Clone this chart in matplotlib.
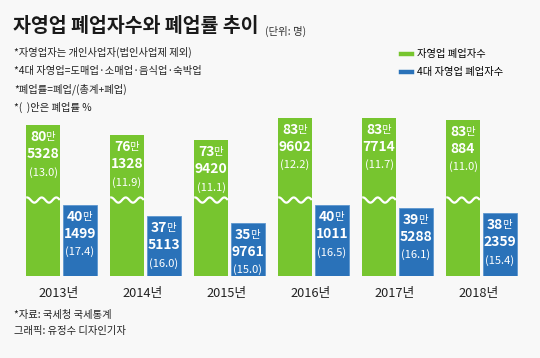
import numpy as np
import matplotlib.pyplot as plt
from matplotlib.lines import Line2D

plt.rcParams['font.family'] = ['Noto Sans CJK KR', 'DejaVu Sans']

# Data (명, 폐업률 %)
years = ["2013년", "2014년", "2015년", "2016년", "2017년", "2018년"]
all_closed = [805328, 761328, 739420, 839602, 837714, 830884]
all_rate = [13.0, 11.9, 11.1, 12.2, 11.7, 11.0]
top4_closed = [401499, 375113, 359761, 401011, 395288, 382359]
top4_rate = [17.4, 16.0, 15.0, 16.5, 16.1, 15.4]

notes = [
    "*자영업자는 개인사업자(법인사업제 제외)",
    "*4대 자영업=도매업·소매업·음식업·숙박업",
    "*폐업률=폐업/(총계+폐업)",
    "*(  )안은 폐업률 %",
]

GREEN = "#77c52f"
BLUE = "#2a72b9"
BG = "#f8f8f8"

# broken axis: green bars are squashed above BREAK
BREAK = 347400
SQUASH = 0.522
WAVE_Y = 413000


def squash(v):
    return BREAK + (v - BREAK) * SQUASH


W, H = 540, 358
fig = plt.figure(figsize=(W / 100, H / 100), dpi=100, facecolor=BG)


def ftext(x, y, s, **kw):
    fig.text(x / W, 1 - y / H, s, **kw)


ax = fig.add_axes([0, (H - 275.7) / H, 1, 175.7 / H])
ax.set_facecolor("none")
ax.axis("off")

x = np.arange(len(years))
bw = 0.40
off = 0.22
g_h = [squash(v) for v in all_closed]
gb = ax.bar(x - off, g_h, bw, color=GREEN, label="자영업 폐업자수")
bb = ax.bar(x + off, top4_closed, bw, color=BLUE, label="4대 자영업 폐업자수",
            edgecolor="#5d97cf", linewidth=0.6)
ax.set_xlim(-0.732, 5.696)
ax.set_ylim(237500, 645200)

# wavy break line on green bars
t = np.linspace(0, 1, 60)
for xi in x - off:
    ax.plot(xi - bw / 2 + t * bw, WAVE_Y + 6000 * np.sin(2 * np.pi * 2.3 * t + 1.2),
            color="white", lw=1.6, solid_capstyle="butt")


def label_bar(xc, top, val, rate):
    man, rest = divmod(val, 10000)
    ax.annotate(f"{man}", (xc, top), xytext=(2.4, -8.6), textcoords="offset points",
                ha="right", va="center", color="white", fontsize=10, fontweight="bold")
    ax.annotate("만", (xc, top), xytext=(1.6, -8.6), textcoords="offset points",
                ha="left", va="center", color="white", fontsize=7.5)
    ax.annotate(f"{rest}", (xc, top), xytext=(0, -20.9), textcoords="offset points",
                ha="center", va="center", color="white", fontsize=10, fontweight="bold")
    ax.annotate(f"({rate:.1f})", (xc, top), xytext=(0, -33.8), textcoords="offset points",
                ha="center", va="center", color="white", fontsize=8)


for i in range(len(years)):
    label_bar(x[i] - off, g_h[i], all_closed[i], all_rate[i])
    label_bar(x[i] + off, top4_closed[i], top4_closed[i], top4_rate[i])
    ax.annotate(years[i], (x[i], 237500), xytext=(-2, -12.5), textcoords="offset points",
                ha="center", va="center", fontsize=9.2, color="#222222",
                annotation_clip=False)

# title and notes
ftext(13, 27, "자영업 폐업자수와 폐업률 추이", fontsize=14, fontweight="bold",
      color="#1a1a1a", va="center")
ftext(265, 31, "(단위: 명)", fontsize=7.5, color="#333333", va="center")
for i, n in enumerate(notes):
    ftext(14, 52.5 + i * 18.2, n, fontsize=7.4, color="#222222", va="center")

ftext(14, 315, "*자료: 국세청 국세통계", fontsize=7.4, color="#222222", va="center")
ftext(14, 331, "그래픽: 유정수 디자인기자", fontsize=7.4, color="#222222", va="center")

handles = [Line2D([], [], color=GREEN, lw=3.2), Line2D([], [], color=BLUE, lw=3.2)]
fig.legend(handles, [gb.get_label(), bb.get_label()], loc="upper left",
           bbox_to_anchor=(401 / W, 1 - 49.5 / H), frameon=False, fontsize=7.4,
           handlelength=1.1, handletextpad=0.5, labelspacing=0.75, borderpad=0,
           borderaxespad=0)

fig.savefig("out.png", dpi=100, facecolor=BG)
